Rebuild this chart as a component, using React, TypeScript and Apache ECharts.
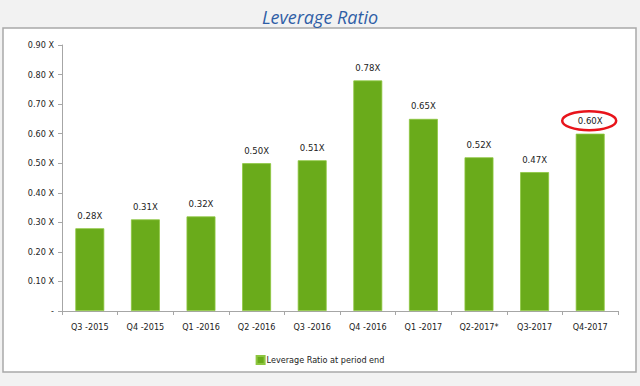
import React, { useEffect, useRef } from "react";
import * as echarts from "echarts";

const categories = ["Q3 -2015", "Q4 -2015", "Q1 -2016", "Q2 -2016", "Q3 -2016", "Q4 -2016", "Q1 -2017", "Q2-2017*", "Q3-2017", "Q4-2017"];
const leverageRatio = [0.28, 0.31, 0.32, 0.50, 0.51, 0.78, 0.65, 0.52, 0.47, 0.60];
const seriesName = "Leverage Ratio at period end";
const highlightIndex = 9;

const NARROW = "'Liberation Sans Narrow', 'DejaVu Sans Condensed', 'Arial Narrow', 'Liberation Sans', sans-serif";

export default function App() {
  const ref = useRef<HTMLDivElement>(null);
  useEffect(() => {
    if (!ref.current) return;
    const chart = echarts.init(ref.current, null, { renderer: "svg" });
    const panel = {
      type: "rect",
      z: -10,
      shape: { x: 3, y: 28, width: 633, height: 344 },
      style: { fill: "#ffffff", stroke: "#a9a9a9", lineWidth: 1.5 },
    };
    chart.setOption({
      animation: false,
      backgroundColor: "#f2f2f2",
      title: {
        text: "Leverage Ratio",
        left: "center",
        top: 3,
        textStyle: { fontFamily: "'Open Sans', sans-serif", fontStyle: "italic", fontWeight: "normal", fontSize: 18, color: "#2f5ea6" },
      },
      graphic: [panel],
      grid: { left: 62, right: 22, top: 45, bottom: 75 },
      legend: {
        bottom: 16,
        left: "center",
        itemWidth: 8,
        itemHeight: 8,
        itemGap: 2,
        icon: "rect",
        textStyle: { fontFamily: NARROW, fontSize: 9, color: "#222", padding: [0, 0, 0, -3] },
        data: [seriesName],
      },
      xAxis: {
        type: "category",
        data: categories,
        axisLine: { lineStyle: { color: "#a6a6a6", width: 1 } },
        axisTick: { show: true, alignWithLabel: false, length: 4, lineStyle: { color: "#a6a6a6" } },
        axisLabel: { interval: 0, fontFamily: NARROW, fontSize: 9, color: "#222", margin: 11 },
      },
      yAxis: {
        type: "value",
        min: 0,
        max: 0.9,
        interval: 0.1,
        splitLine: { show: false },
        axisLine: { show: true, lineStyle: { color: "#a6a6a6", width: 1 } },
        axisTick: { show: true, length: 4, lineStyle: { color: "#a6a6a6" } },
        axisLabel: {
          fontFamily: NARROW,
          fontSize: 9,
          color: "#222",
          margin: 8,
          formatter: (v: number) => (v === 0 ? "-" : v.toFixed(2) + " X"),
        },
      },
      series: [
        {
          name: seriesName,
          type: "bar",
          data: leverageRatio,
          barWidth: "52%",
          itemStyle: { color: "#6aab1b", borderColor: "#8dc63f", borderWidth: 0.8 },
          label: {
            show: true,
            position: "top",
            distance: 8,
            fontFamily: NARROW,
            fontSize: 9.5,
            color: "#222",
            formatter: (p: any) => Number(p.value).toFixed(2) + "X",
          },
        },
      ],
    });
    const pt = chart.convertToPixel({ seriesIndex: 0 }, [highlightIndex, leverageRatio[highlightIndex]]) as number[];
    if (pt) {
      chart.setOption({
        graphic: [
          panel,
          {
            type: "ellipse",
            z: 100,
            shape: { cx: pt[0] - 1, cy: pt[1] - 13, rx: 27, ry: 9.5 },
            style: { fill: "none", stroke: "#e8141b", lineWidth: 2.5 },
          },
        ],
      });
    }
    return () => chart.dispose();
  }, []);
  return <div ref={ref} style={{ position: "fixed", left: 0, top: 0, width: 640, height: 386 }} />;
}
